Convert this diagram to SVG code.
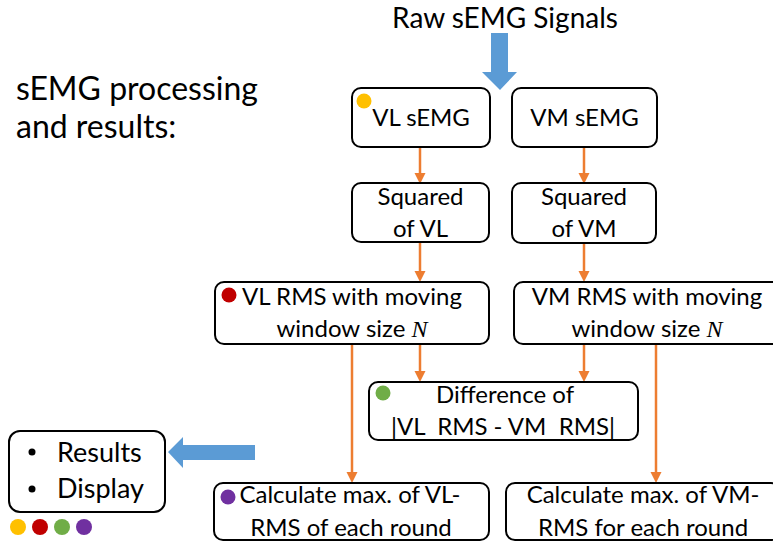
<svg xmlns="http://www.w3.org/2000/svg" width="773" height="542" viewBox="0 0 773 542">
<style>
  .box{fill:#fff;stroke:#000;stroke-width:2}
  .t{font-family:Lato,"Liberation Sans",sans-serif;font-size:24px;fill:#000;text-anchor:middle}
  .big{font-family:Lato,"Liberation Sans",sans-serif;fill:#000}
  .n{font-family:"Liberation Serif",serif;font-style:italic}
  .con{stroke:#ED7D31;stroke-width:2.5;fill:none}
  .blue{fill:#5B9BD5}
</style>
<defs>
  <marker id="ah" markerUnits="userSpaceOnUse" markerWidth="12" markerHeight="12" refX="6" refY="5.5" orient="auto">
    <path d="M0,0 L11,5.5 L0,11 z" fill="#ED7D31"/>
  </marker>
</defs>
<rect width="773" height="542" fill="#fff"/>

<g id="title">
  <text class="big" x="16" y="100" font-size="32">sEMG processing</text>
  <text class="big" x="16" y="138" font-size="32">and results:</text>
</g>

<g id="raw">
  <text class="big" x="505" y="28" font-size="28" text-anchor="middle">Raw sEMG Signals</text>
  <polygon class="blue" points="491,33 508,33 508,72 517,72 500,90 482,72 491,72"/>
</g>

<g id="connectors">
  <line class="con" x1="420" y1="147" x2="420" y2="179" marker-end="url(#ah)"/>
  <line class="con" x1="584" y1="147" x2="584" y2="179" marker-end="url(#ah)"/>
  <line class="con" x1="420" y1="242" x2="420" y2="277" marker-end="url(#ah)"/>
  <line class="con" x1="584" y1="243" x2="584" y2="277" marker-end="url(#ah)"/>
  <line class="con" x1="420" y1="344" x2="420" y2="377" marker-end="url(#ah)"/>
  <line class="con" x1="584" y1="344" x2="584" y2="377" marker-end="url(#ah)"/>
  <line class="con" x1="352" y1="344" x2="352" y2="478" marker-end="url(#ah)"/>
  <line class="con" x1="656" y1="344" x2="656" y2="478" marker-end="url(#ah)"/>
  <polygon class="blue" points="255,445 183,445 183,437 168,452 183,468 183,460 255,460"/>
</g>

<g id="vl-semg">
  <rect class="box" x="352" y="88" width="138" height="59" rx="9"/>
  <circle cx="364" cy="101" r="7.5" fill="#FFC000"/>
  <text class="t" x="421" y="126">VL sEMG</text>
</g>
<g id="vm-semg">
  <rect class="box" x="512" y="88" width="145" height="59" rx="9"/>
  <text class="t" x="584.5" y="126">VM sEMG</text>
</g>

<g id="sq-vl">
  <rect class="box" x="352" y="183" width="137" height="59" rx="9"/>
  <text class="t" x="420.5" y="205">Squared</text>
  <text class="t" x="420.5" y="237">of VL</text>
</g>
<g id="sq-vm">
  <rect class="box" x="512" y="183" width="144" height="60" rx="9"/>
  <text class="t" x="584" y="205">Squared</text>
  <text class="t" x="584" y="237">of VM</text>
</g>

<g id="vl-rms">
  <rect class="box" x="215" y="282" width="274" height="62" rx="9"/>
  <circle cx="229" cy="295" r="7.5" fill="#C00000"/>
  <text class="t" x="352" y="305">VL RMS with moving</text>
  <text class="t" x="352" y="337">window size <tspan class="n">N</tspan></text>
</g>
<g id="vm-rms">
  <rect class="box" x="514" y="282" width="272" height="62" rx="9"/>
  <text class="t" x="647" y="305">VM RMS with moving</text>
  <text class="t" x="647" y="337">window size <tspan class="n">N</tspan></text>
</g>

<g id="difference">
  <rect class="box" x="369" y="382" width="269" height="58" rx="9"/>
  <circle cx="383" cy="393" r="7.5" fill="#70AD47"/>
  <text class="t" x="505" y="403">Difference of</text>
  <text class="t" x="503" y="435" style="white-space:pre">|VL  RMS - VM  RMS|</text>
</g>

<g id="results">
  <rect class="box" x="9" y="431" width="156" height="81" rx="11"/>
  <circle cx="32" cy="452" r="3.5" fill="#000"/>
  <circle cx="32" cy="489" r="3.5" fill="#000"/>
  <text class="big" x="57" y="462" font-size="27">Results</text>
  <text class="big" x="57" y="498" font-size="27">Display</text>
</g>

<g id="legend">
  <circle cx="18" cy="527" r="8" fill="#FFC000"/>
  <circle cx="40" cy="527" r="8" fill="#C00000"/>
  <circle cx="62" cy="527" r="8" fill="#70AD47"/>
  <circle cx="84" cy="527" r="8" fill="#7030A0"/>
</g>

<g id="max-vl">
  <rect class="box" x="214" y="483" width="275" height="57" rx="9"/>
  <circle cx="228" cy="497" r="7.5" fill="#7030A0"/>
  <text class="t" x="350" y="503">Calculate max. of VL-</text>
  <text class="t" x="351" y="536">RMS of each round</text>
</g>
<g id="max-vm">
  <rect class="box" x="506" y="483" width="274" height="57" rx="9"/>
  <text class="t" x="643" y="503">Calculate max. of VM-</text>
  <text class="t" x="643" y="536">RMS for each round</text>
</g>
</svg>
